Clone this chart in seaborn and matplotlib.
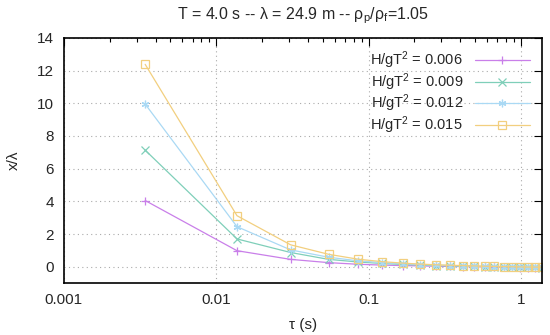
import matplotlib
matplotlib.use('Agg')
import matplotlib.pyplot as plt
import pandas as pd
import seaborn as sns

# Data
tau = [0.00342, 0.0137, 0.0308, 0.0547, 0.0855, 0.123, 0.168, 0.219, 0.277, 0.342,
       0.414, 0.493, 0.578, 0.670, 0.770, 0.875, 0.988, 1.108, 1.235, 1.368]
y_006 = [4.05, 0.98, 0.45, 0.25, 0.15, 0.10, 0.07, 0.05, 0.03, 0.02,
         0.01, 0.0, -0.01, -0.02, -0.03, -0.04, -0.05, -0.05, -0.06, -0.06]
y_009 = [7.13, 1.70, 0.87, 0.45, 0.29, 0.20, 0.14, 0.10, 0.07, 0.05,
         0.03, 0.02, 0.01, 0.0, -0.01, -0.02, -0.03, -0.04, -0.04, -0.05]
y_012 = [9.95, 2.45, 1.03, 0.58, 0.36, 0.25, 0.18, 0.13, 0.10, 0.07,
         0.05, 0.03, 0.02, 0.01, 0.0, -0.01, -0.02, -0.03, -0.03, -0.04]
y_015 = [12.38, 3.12, 1.34, 0.76, 0.46, 0.31, 0.22, 0.16, 0.12, 0.09,
         0.07, 0.05, 0.03, 0.02, 0.01, 0.0, -0.01, -0.02, -0.02, -0.03]
labels = ['H/gT$^2$ = 0.006', 'H/gT$^2$ = 0.009', 'H/gT$^2$ = 0.012', 'H/gT$^2$ = 0.015']

sns.set_style('white')
plt.rcParams['font.family'] = ['Liberation Sans', 'DejaVu Sans']
plt.rcParams['mathtext.fontset'] = 'custom'
plt.rcParams['mathtext.rm'] = 'Liberation Sans'
plt.rcParams['mathtext.it'] = 'Liberation Sans'

colors = ['#c97fe9', '#7fcfb9', '#aad9f4', '#f2cf7f']
markers = ['+', 'x', (6, 2, 0), 's']

fig, ax = plt.subplots(figsize=(5.5, 3.35), dpi=100)
fig.subplots_adjust(left=0.116, right=0.985, top=0.887, bottom=0.155)

for ys, lab, c, m in zip([y_006, y_009, y_012, y_015], labels, colors, markers):
    df = pd.DataFrame({'tau': tau, 'x': ys})
    sns.lineplot(data=df, x='tau', y='x', ax=ax, color=c, marker=m, markersize=5.5,
                 markerfacecolor='none', markeredgecolor=c, markeredgewidth=0.9,
                 linewidth=0.9, label=lab)

ax.set_xscale('log')
ax.set_xlim(0.001, 1.37)
ax.set_ylim(-1, 14)
ax.set_yticks(range(0, 15, 2))
ax.set_xticks([0.001, 0.01, 0.1, 1])
ax.set_xticklabels(['0.001', '0.01', '0.1', '1'])
ax.grid(True, which='major', linestyle=(0, (1, 3)), color='#aaaaaa', linewidth=0.8)
ax.tick_params(which='both', direction='in', top=True, right=True, labelsize=11, color='black')
ax.tick_params(which='major', length=6, width=0.8, pad=7)
ax.tick_params(which='minor', length=3, width=0.8)
for s in ax.spines.values():
    s.set_color('black')
    s.set_linewidth(1.2)

ax.set_xlabel('τ (s)', fontsize=11, labelpad=8)
ax.set_ylabel('x/λ', fontsize=11, labelpad=12)
ax.set_title('T = 4.0 s -- λ = 24.9 m -- ρ$_\\mathrm{p}$/ρ$_\\mathrm{f}$=1.05', fontsize=11.5, pad=13)

ax.legend(loc='upper right', frameon=False, markerfirst=False, handlelength=3.8,
          fontsize=10.5, labelspacing=0.0, borderaxespad=0.4, handletextpad=0.8)

fig.savefig('out.png', dpi=100)
